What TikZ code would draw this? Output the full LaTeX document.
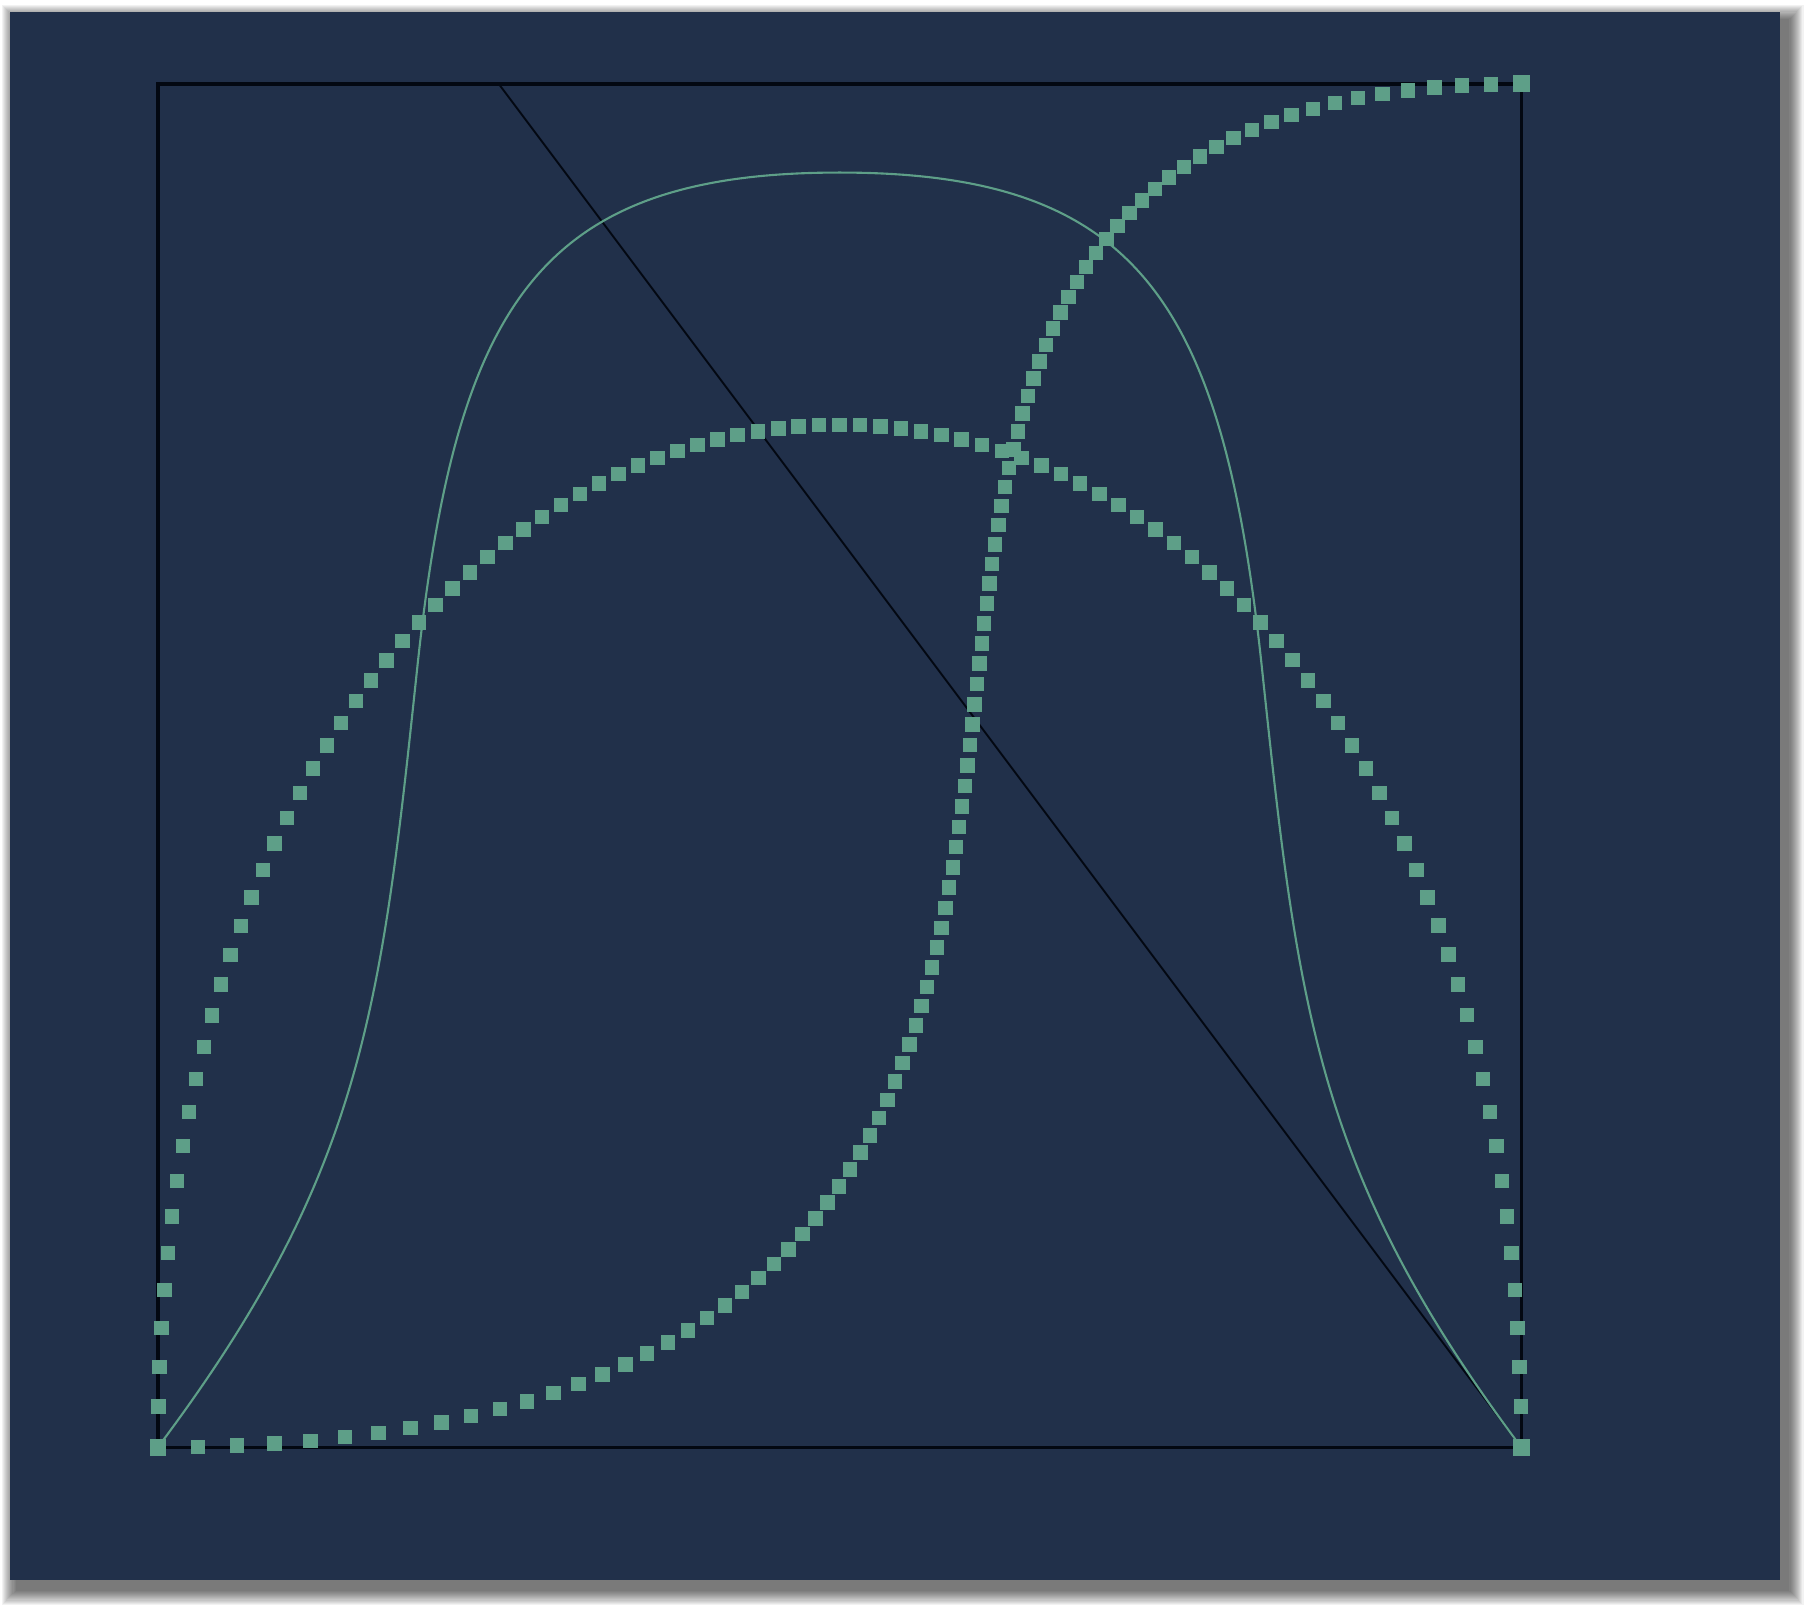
\documentclass[tikz,border=0pt]{standalone}
\usepackage{xcolor}
\usepackage{tikz}
\usetikzlibrary{calc}

\definecolor{slate}{HTML}{21304A}
\definecolor{sea}{HTML}{5E9F88}
\definecolor{ink}{HTML}{030812}

\begin{document}
\begin{tikzpicture}[
    x=13.63cm, y=13.63cm,
    frame/.style={draw=ink, line width=0.9pt},
    hull/.style={draw=ink, line width=0.55pt},
    dotmark/.style={fill=sea},
    thincurve/.style={draw=sea, line width=0.6pt},
    endmark/.style={fill=sea},
]
    \useasboundingbox (-0.1159,-0.1181) rectangle (1.2119,1.0616);

    % shadow and panel
    \foreach \r in {1,...,14}
        \fill[black, opacity=0.05] (-0.1036-\r*0.0008,-0.1046-\r*0.0008) rectangle (1.196+\r*0.0008,1.0468+\r*0.0008);
    \fill[slate] (-0.1086,-0.0976) rectangle (1.19,1.0528);

    \coordinate (p0) at (0,0);
    \coordinate (p1) at (1,0);
    \coordinate (p2) at (0.25,1);
    \coordinate (p3) at (1,1);

    \draw[frame] (p0) rectangle (p3);
    \draw[hull] (p2) -- (p1);

    % thin bell curve
    \draw[thincurve] (p0) .. controls (0.15,0.2) and (0.1635,0.32) .. (0.19,0.57)
        .. controls (0.2186,0.84) and (0.28,0.935) .. (0.5,0.935)
        .. controls (0.72,0.935) and (0.7814,0.84) .. (0.81,0.57)
        .. controls (0.8365,0.32) and (0.85,0.2) .. (p1);

    % sampled curves, 101 steps each
    \foreach \i in {0,...,100} {
        \pgfmathsetmacro{\tp}{\i/100}
        \fill[dotmark] ({3*\tp*\tp-2*\tp*\tp*\tp},{3*\tp*(1-\tp)})
            +(-0.0053,-0.0053) rectangle +(0.0053,0.0053);
        \fill[dotmark] ({3*(1-\tp)*(1-\tp)*\tp+0.75*(1-\tp)*\tp*\tp+\tp*\tp*\tp},{3*(1-\tp)*\tp*\tp+\tp*\tp*\tp})
            +(-0.0053,-0.0053) rectangle +(0.0053,0.0053);
    }

    \foreach \c in {p0,p1,p3}
        \fill[endmark] ($(\c)+(-0.0062,-0.0062)$) rectangle ($(\c)+(0.0062,0.0062)$);
\end{tikzpicture}
\end{document}
